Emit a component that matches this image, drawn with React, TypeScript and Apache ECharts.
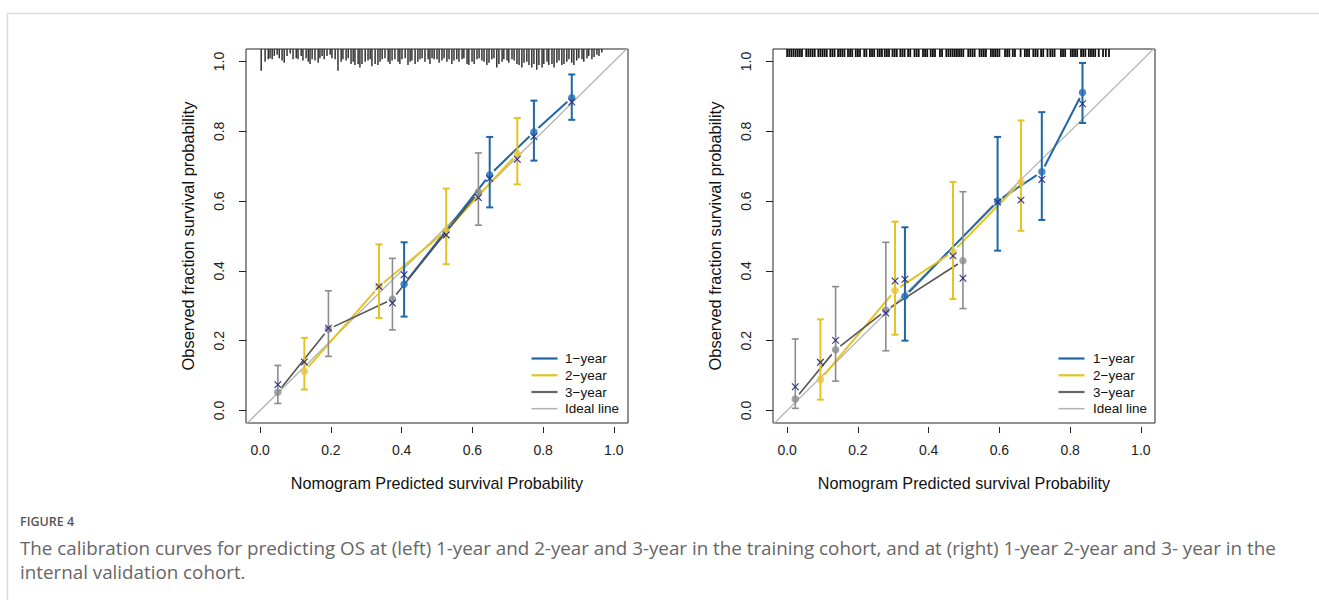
import React, { useEffect, useRef } from 'react';
import * as echarts from 'echarts';

// ---------- data ----------
const tickValues = [0, 0.2, 0.4, 0.6, 0.8, 1.0];
const legendLabels = ['1−year', '2−year', '3−year', 'Ideal line'];
const xTitle = 'Nomogram Predicted survival Probability';
const yTitle = 'Observed fraction survival probability';
const figureLabel = 'FIGURE 4';
const captionLines = [
  'The calibration curves for predicting OS at (left) 1-year and 2-year and 3-year in the training cohort, and at (right) 1-year 2-year and 3- year in the',
  'internal validation cohort.',
];
const idealLine = [[-0.1, -0.1], [1.1, 1.1]];

// training cohort (left)
const train1X = [0.407, 0.649, 0.774, 0.881];
const train1Obs = [0.362, 0.675, 0.798, 0.896];
const train1Lo = [0.269, 0.582, 0.716, 0.833];
const train1Hi = [0.482, 0.784, 0.888, 0.963];
const train1Cor = [0.389, 0.665, 0.785, 0.884];

const train2X = [0.125, 0.336, 0.526, 0.727];
const train2Obs = [0.112, 0.355, 0.515, 0.736];
const train2Lo = [0.06, 0.265, 0.419, 0.648];
const train2Hi = [0.208, 0.476, 0.636, 0.838];
const train2Cor = [0.139, 0.355, 0.503, 0.72];

const train3X = [0.05, 0.193, 0.374, 0.617];
const train3Obs = [0.052, 0.233, 0.319, 0.626];
const train3Lo = [0.02, 0.155, 0.231, 0.531];
const train3Hi = [0.129, 0.343, 0.436, 0.738];
const train3Cor = [0.074, 0.236, 0.308, 0.61];

// validation cohort (right)
const valid1X = [0.333, 0.595, 0.72, 0.835];
const valid1Obs = [0.327, 0.6, 0.684, 0.911];
const valid1Lo = [0.2, 0.458, 0.546, 0.824];
const valid1Hi = [0.525, 0.784, 0.855, 0.996];
const valid1Cor = [0.376, 0.597, 0.662, 0.879];

const valid2X = [0.094, 0.305, 0.469, 0.661];
const valid2Obs = [0.089, 0.344, 0.455, 0.655];
const valid2Lo = [0.031, 0.217, 0.319, 0.515];
const valid2Hi = [0.261, 0.541, 0.655, 0.831];
const valid2Cor = [0.138, 0.371, 0.443, 0.603];

const valid3X = [0.023, 0.137, 0.279, 0.497];
const valid3Obs = [0.033, 0.174, 0.287, 0.429];
const valid3Lo = [0.006, 0.084, 0.171, 0.292];
const valid3Hi = [0.205, 0.355, 0.482, 0.627];
const valid3Cor = [0.068, 0.201, 0.279, 0.379];

// distribution of predicted values (rug / spike histogram), x in thousandths
const rugTrainX = [
  3, 14, 23, 28, 34, 40, 48, 54, 62, 68, 76, 85, 93, 102, 107, 116, 121, 130, 136, 141,
  147, 155, 164, 169, 175, 181, 189, 198, 203, 212, 220, 229, 234, 243, 249, 257, 263, 268, 277, 282,
  288, 297, 305, 311, 316, 325, 333, 339, 345, 353, 362, 367, 373, 381, 390, 395, 401, 410, 418, 424,
  429, 438, 446, 452, 458, 466, 475, 480,
  486, 492, 500, 506, 514, 520, 528, 534, 542, 548, 556, 562, 571, 576, 585, 590, 599, 605, 613, 619,
  627, 633, 641, 647, 655, 661, 669, 675, 684, 689, 698, 703, 712, 718, 726, 732, 740, 746, 754, 760,
  768, 774, 782, 788, 797, 802, 811, 816, 825, 831, 839, 845, 853, 859, 867, 873, 881, 887, 895, 901,
  910, 915, 924, 929, 938, 944, 952, 958, 966,
];
const rugTrainN = [
  19, 11, 9, 8, 9, 6, 5, 8, 10, 12, 6, 4, 9, 8, 9, 6, 10, 8, 11, 13,
  9, 10, 12, 8, 6, 9, 6, 5, 8, 9, 19, 11, 9, 10, 8, 13, 11, 14, 13, 16,
  13, 11, 10, 9, 15, 13, 14, 11, 9, 8, 11, 13, 10, 9, 11, 13, 9, 8, 14, 11,
  10, 13, 11, 9, 8, 11, 9, 13,
  8, 9, 9, 12, 10, 8, 11, 9, 13, 10, 9, 11, 9, 8, 13, 14, 11, 13, 9, 8,
  10, 11, 14, 12, 9, 8, 16, 13, 11, 9, 10, 12, 9, 10, 13, 14, 16, 12, 11, 14,
  16, 13, 18, 14, 16, 13, 11, 14, 13, 16, 12, 10, 14, 13, 11, 9, 12, 14, 10, 8,
  9, 11, 8, 6, 9, 7, 5, 6, 3,
];
const rugValidX = [
  0, 6, 12, 18, 24, 30, 36, 42, 54, 60, 66, 72, 78, 88, 94, 100, 106, 112, 122, 128,
  134, 144, 150, 156, 162, 172, 178, 184, 194, 200, 206, 218, 224, 234, 240, 246, 256, 262, 268, 276,
  282, 288, 298, 304, 310, 320, 326, 332, 342, 348, 360, 366, 372, 384, 390, 396, 406, 412, 418, 432,
  438, 450, 456, 462, 468, 474, 480, 486, 492, 498, 512, 518, 524, 530, 544, 550, 556, 562, 576, 582,
  588, 594, 600, 616, 622, 628, 638, 644, 660, 672, 678, 684, 696, 702, 708, 718, 724, 736, 744, 750,
  756, 774, 780, 786, 802, 808, 814, 820, 831, 837, 843, 853, 859, 865, 871, 881, 893, 901, 910,
];

// ---------- styles ----------
const FONT = '"Liberation Sans", Arial, Helvetica, sans-serif';
const BLUE = '#1f66a6';
const BLUE_DOT = '#1f6cb8';
const YELLOW = '#e4c322';
const YELLOW_DOT = '#e6c43c';
const GREY = '#8c8c8c';
const GREY_LINE = '#555555';
const IDEAL = '#b4b4b4';
const XMARK = '#2b2f87';
const AXIS = '#222222';

const X_MIN = -0.04, X_MAX = 1.04, Y_MIN = -0.036, Y_MAX = 1.036;
const GRID_TOP = 49, GRID_H = 374, GRID_W = 382;
const GRID_LEFT = [246, 773];

type Group = {
  x: number[]; obs: number[]; lo: number[]; hi: number[]; cor: number[];
  bar: string; dot: string; line: string; lw: number;
};

const errRender = (color: string, width: number) => (params: any, api: any) => {
  const x = api.value(0);
  const a = api.coord([x, api.value(1)]);
  const b = api.coord([x, api.value(2)]);
  const cap = 3.5;
  const st = { stroke: color, lineWidth: width };
  return {
    type: 'group',
    children: [
      { type: 'line', shape: { x1: a[0], y1: a[1], x2: b[0], y2: b[1] }, style: st },
      { type: 'line', shape: { x1: a[0] - cap, y1: a[1], x2: a[0] + cap, y2: a[1] }, style: st },
      { type: 'line', shape: { x1: b[0] - cap, y1: b[1], x2: b[0] + cap, y2: b[1] }, style: st },
    ],
  };
};

const segRender = (color: string, width: number) => (params: any, api: any) => {
  const p = api.coord([api.value(0), api.value(1)]);
  const q = api.coord([api.value(2), api.value(3)]);
  const dx = q[0] - p[0], dy = q[1] - p[1];
  const len = Math.sqrt(dx * dx + dy * dy);
  const gap = 6;
  if (len <= gap * 2) return null;
  const ux = dx / len, uy = dy / len;
  return {
    type: 'line',
    shape: { x1: p[0] + ux * gap, y1: p[1] + uy * gap, x2: q[0] - ux * gap, y2: q[1] - uy * gap },
    style: { stroke: color, lineWidth: width },
  };
};

const xRender = (params: any, api: any) => {
  const p = api.coord([api.value(0), api.value(1)]);
  const s = 3.3;
  const st = { stroke: XMARK, lineWidth: 1.1 };
  return {
    type: 'group',
    children: [
      { type: 'line', shape: { x1: p[0] - s, y1: p[1] - s, x2: p[0] + s, y2: p[1] + s }, style: st },
      { type: 'line', shape: { x1: p[0] - s, y1: p[1] + s, x2: p[0] + s, y2: p[1] - s }, style: st },
    ],
  };
};

const rugRender = (scale: number, width: number, color: string) => (params: any, api: any) => {
  const p = api.coord([api.value(0), 0]);
  const top = params.coordSys.y;
  return {
    type: 'line',
    shape: { x1: p[0], y1: top, x2: p[0], y2: top + api.value(1) * scale },
    style: { stroke: color, lineWidth: width },
  };
};

function plotSeries(g: number, groups: Group[], rug: number[][], rugScale: number, rugWidth: number, rugColor: string) {
  const s: any[] = [];
  s.push({
    type: 'custom', xAxisIndex: g, yAxisIndex: g, renderItem: rugRender(rugScale, rugWidth, rugColor),
    data: rug, encode: { x: 0, y: 1 }, clip: false, z: 2, silent: true,
  });
  s.push({
    type: 'line', xAxisIndex: g, yAxisIndex: g, data: idealLine, symbol: 'none', clip: true,
    lineStyle: { color: IDEAL, width: 1.3 }, z: 1, silent: true,
  });
  groups.forEach((gr) => {
    const segs = gr.x.slice(0, -1).map((v, i) => [v, gr.obs[i], gr.x[i + 1], gr.obs[i + 1]]);
    s.push({
      type: 'custom', xAxisIndex: g, yAxisIndex: g, renderItem: segRender(gr.line, gr.lw),
      data: segs, encode: { x: [0, 2], y: [1, 3] }, z: 3, silent: true,
    });
    s.push({
      type: 'custom', xAxisIndex: g, yAxisIndex: g, renderItem: errRender(gr.bar, gr.lw),
      data: gr.x.map((v, i) => [v, gr.lo[i], gr.hi[i]]), encode: { x: 0, y: [1, 2] }, z: 4, silent: true,
    });
    s.push({
      type: 'scatter', xAxisIndex: g, yAxisIndex: g, symbol: 'circle', symbolSize: 7.5,
      itemStyle: { color: gr.dot }, data: gr.x.map((v, i) => [v, gr.obs[i]]), z: 5, silent: true,
    });
    s.push({
      type: 'custom', xAxisIndex: g, yAxisIndex: g, renderItem: xRender,
      data: gr.x.map((v, i) => [v, gr.cor[i]]), encode: { x: 0, y: 1 }, z: 6, silent: true,
    });
  });
  return s;
}

function legendGraphics(lineX: number, textX: number) {
  const rows = [358.5, 375.3, 392, 408.7];
  const colors = [BLUE, YELLOW, '#666666', IDEAL];
  const widths = [2.2, 2.2, 2.2, 1.6];
  const els: any[] = [];
  legendLabels.forEach((lab, i) => {
    els.push({
      type: 'line', shape: { x1: lineX, y1: rows[i], x2: lineX + 26, y2: rows[i] },
      style: { stroke: colors[i], lineWidth: widths[i] }, z: 10,
    });
    els.push({
      type: 'text', x: textX, y: rows[i],
      style: { text: lab, fontSize: 13.5, fontFamily: FONT, fill: '#111', align: 'left', verticalAlign: 'middle' }, z: 10,
    });
  });
  return els;
}

export default function App() {
  const ref = useRef<HTMLDivElement>(null);
  useEffect(() => {
    if (!ref.current) return;
    const chart = echarts.init(ref.current, undefined, { renderer: 'svg' });

    const trainGroups: Group[] = [
      { x: train1X, obs: train1Obs, lo: train1Lo, hi: train1Hi, cor: train1Cor, bar: BLUE, dot: BLUE_DOT, line: BLUE, lw: 2 },
      { x: train2X, obs: train2Obs, lo: train2Lo, hi: train2Hi, cor: train2Cor, bar: YELLOW, dot: YELLOW_DOT, line: YELLOW, lw: 2 },
      { x: train3X, obs: train3Obs, lo: train3Lo, hi: train3Hi, cor: train3Cor, bar: GREY, dot: GREY, line: GREY_LINE, lw: 1.6 },
    ];
    const validGroups: Group[] = [
      { x: valid1X, obs: valid1Obs, lo: valid1Lo, hi: valid1Hi, cor: valid1Cor, bar: BLUE, dot: BLUE_DOT, line: BLUE, lw: 2 },
      { x: valid2X, obs: valid2Obs, lo: valid2Lo, hi: valid2Hi, cor: valid2Cor, bar: YELLOW, dot: YELLOW_DOT, line: YELLOW, lw: 2 },
      { x: valid3X, obs: valid3Obs, lo: valid3Lo, hi: valid3Hi, cor: valid3Cor, bar: GREY, dot: GREY, line: GREY_LINE, lw: 1.6 },
    ];
    const rugTrain = rugTrainX.map((v, i) => [v / 1000, rugTrainN[i]]);
    const rugValid = rugValidX.map((v) => [v / 1000, 1]);

    const xAxisOf = (g: number) => ({
      gridIndex: g, type: 'value', min: X_MIN, max: X_MAX, offset: 4, position: 'bottom',
      axisLine: { show: false, onZero: false }, splitLine: { show: false },
      axisTick: { show: true, length: 6, lineStyle: { color: AXIS, width: 1 }, customValues: tickValues },
      axisLabel: { customValues: tickValues, margin: 16, fontSize: 14, color: AXIS, fontFamily: FONT, formatter: (v: number) => v.toFixed(1) },
    });
    const yAxisOf = (g: number) => ({
      gridIndex: g, type: 'value', min: Y_MIN, max: Y_MAX, position: 'left',
      axisLine: { show: false, onZero: false }, splitLine: { show: false },
      axisTick: { show: true, length: 7, lineStyle: { color: AXIS, width: 1 }, customValues: tickValues },
      axisLabel: { customValues: tickValues, margin: 20, rotate: 90, fontSize: 14, color: AXIS, fontFamily: FONT, formatter: (v: number) => v.toFixed(1) },
    });

    const graphics: any[] = [
      { type: 'rect', shape: { x: 7.5, y: 13.5, width: 1400, height: 700 }, style: { fill: 'none', stroke: '#dcdcdc', lineWidth: 1.5 }, silent: true },
    ];
    GRID_LEFT.forEach((l) => {
      graphics.push({
        type: 'text', x: l + GRID_W / 2, y: 483,
        style: { text: xTitle, fontSize: 16.2, fontFamily: FONT, fill: '#111', align: 'center', verticalAlign: 'middle' },
      });
      graphics.push({
        type: 'text', x: l - 58, y: GRID_TOP + GRID_H / 2, rotation: Math.PI / 2,
        style: { text: yTitle, fontSize: 16.4, fontFamily: FONT, fill: '#111', align: 'center', verticalAlign: 'middle' },
      });
    });
    graphics.push(...legendGraphics(531.5, 565));
    graphics.push(...legendGraphics(1058.5, 1093));
    graphics.push({
      type: 'text', x: 20, y: 521,
      style: { text: figureLabel, fontSize: 12.5, fontFamily: '"Open Sans", sans-serif', fontWeight: 600, fill: '#555', align: 'left', verticalAlign: 'middle' },
    });
    captionLines.forEach((t, i) => {
      graphics.push({
        type: 'text', x: 20, y: 548 + i * 24,
        style: { text: t, fontSize: 18.8, fontFamily: '"Open Sans", sans-serif', fill: '#666', align: 'left', verticalAlign: 'middle' },
      });
    });

    chart.setOption({
      animation: false,
      backgroundColor: '#ffffff',
      grid: GRID_LEFT.map((l) => ({
        left: l, top: GRID_TOP, width: GRID_W, height: GRID_H, show: true,
        borderColor: AXIS, borderWidth: 1, backgroundColor: 'transparent', containLabel: false,
      })),
      xAxis: [xAxisOf(0), xAxisOf(1)],
      yAxis: [yAxisOf(0), yAxisOf(1)],
      series: [
        ...plotSeries(0, trainGroups, rugTrain, 1.15, 1.5, '#333'),
        ...plotSeries(1, validGroups, rugValid, 8, 1.8, '#111'),
      ],
      graphic: graphics,
    });
    return () => chart.dispose();
  }, []);
  return <div ref={ref} style={{ position: 'fixed', left: 0, top: 0, width: 1319, height: 600 }} />;
}
